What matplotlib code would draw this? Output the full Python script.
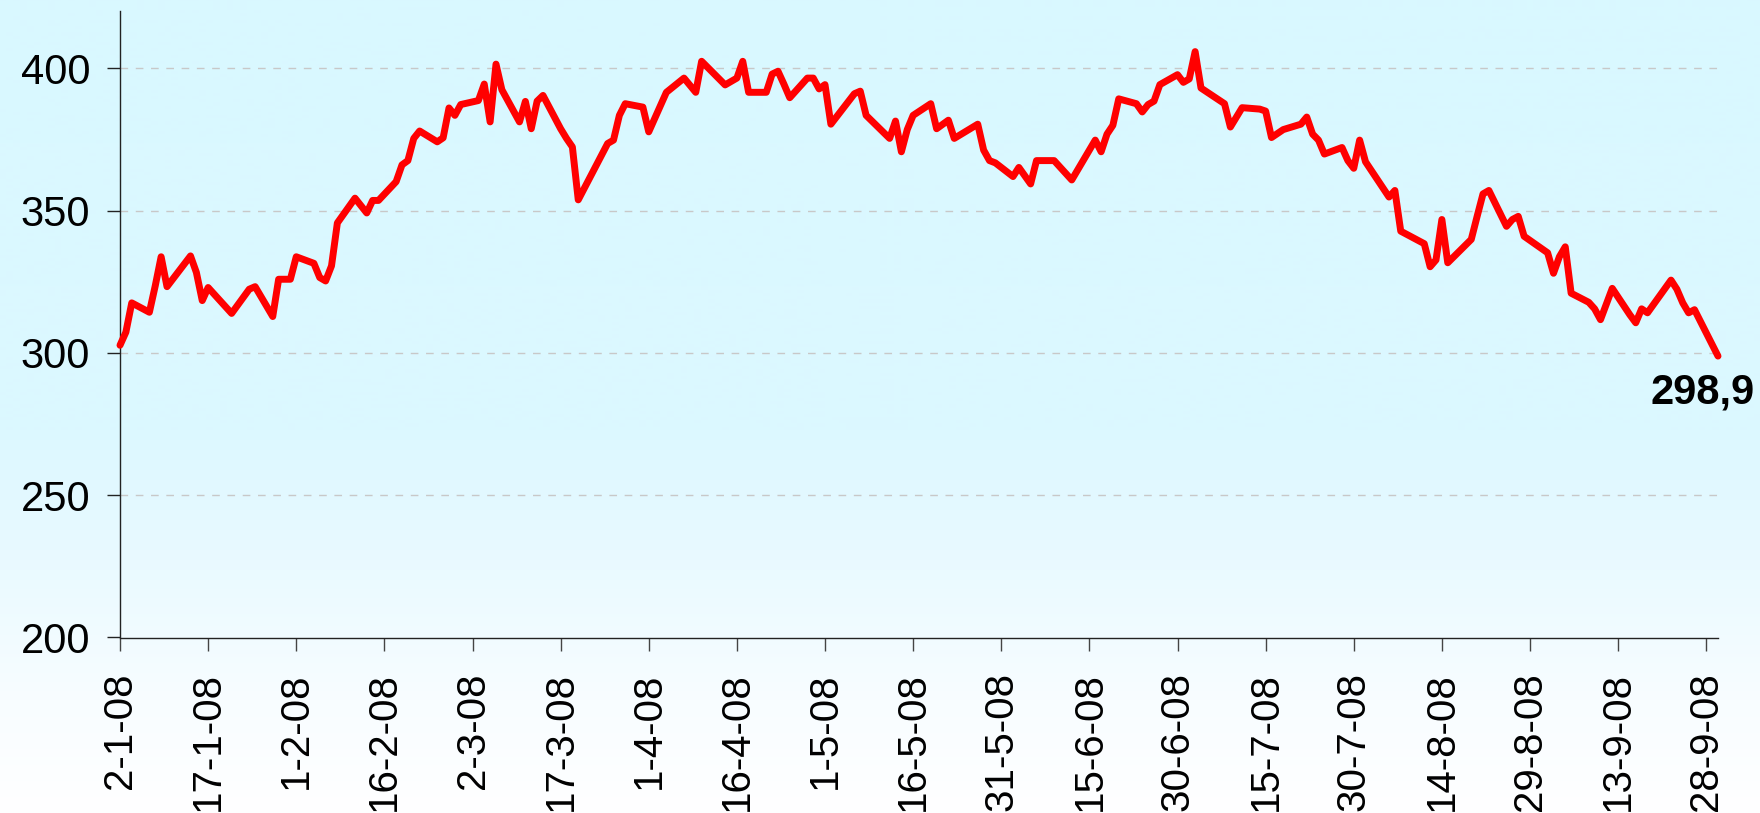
import matplotlib
matplotlib.use("Agg")
import matplotlib.pyplot as plt
import numpy as np
import pandas as pd

plt.rcParams['font.family'] = ['Liberation Sans', 'DejaVu Sans']
plt.rcParams['lines.scale_dashes'] = False

# daily closes (business days where a vertex is visible)
dates = [
    "2008-01-02", "2008-01-03", "2008-01-04", "2008-01-07", "2008-01-08", "2008-01-09",
    "2008-01-10", "2008-01-14", "2008-01-15", "2008-01-16", "2008-01-17", "2008-01-21",
    "2008-01-24", "2008-01-25", "2008-01-28", "2008-01-29", "2008-01-31",
    "2008-02-01", "2008-02-04", "2008-02-05", "2008-02-06", "2008-02-07", "2008-02-08",
    "2008-02-11", "2008-02-13", "2008-02-14", "2008-02-15", "2008-02-18", "2008-02-19",
    "2008-02-20", "2008-02-21", "2008-02-22", "2008-02-25", "2008-02-26", "2008-02-27",
    "2008-02-28", "2008-02-29",
    "2008-03-03", "2008-03-04", "2008-03-05", "2008-03-06", "2008-03-07", "2008-03-10",
    "2008-03-11", "2008-03-12", "2008-03-13", "2008-03-14", "2008-03-17", "2008-03-18",
    "2008-03-19", "2008-03-20", "2008-03-25", "2008-03-26", "2008-03-27", "2008-03-28",
    "2008-03-31",
    "2008-04-01", "2008-04-04", "2008-04-07", "2008-04-09", "2008-04-10", "2008-04-14",
    "2008-04-16", "2008-04-17", "2008-04-18", "2008-04-21", "2008-04-22", "2008-04-23",
    "2008-04-24", "2008-04-25", "2008-04-28", "2008-04-29", "2008-04-30",
    "2008-05-01", "2008-05-02", "2008-05-06", "2008-05-07", "2008-05-08", "2008-05-12",
    "2008-05-13", "2008-05-14", "2008-05-15", "2008-05-16", "2008-05-19", "2008-05-20",
    "2008-05-22", "2008-05-23", "2008-05-27", "2008-05-28", "2008-05-29", "2008-05-30",
    "2008-06-02", "2008-06-03", "2008-06-05", "2008-06-06", "2008-06-09", "2008-06-12",
    "2008-06-16", "2008-06-17", "2008-06-18", "2008-06-19", "2008-06-20", "2008-06-23",
    "2008-06-24", "2008-06-25", "2008-06-26", "2008-06-27", "2008-06-30",
    "2008-07-01", "2008-07-02", "2008-07-03", "2008-07-04", "2008-07-07", "2008-07-08",
    "2008-07-09", "2008-07-11", "2008-07-14", "2008-07-15", "2008-07-16", "2008-07-18",
    "2008-07-21", "2008-07-22", "2008-07-23", "2008-07-24", "2008-07-25", "2008-07-28",
    "2008-07-29", "2008-07-30", "2008-07-31",
    "2008-08-01", "2008-08-05", "2008-08-06", "2008-08-07", "2008-08-11", "2008-08-12",
    "2008-08-13", "2008-08-14", "2008-08-15", "2008-08-19", "2008-08-20", "2008-08-21",
    "2008-08-22", "2008-08-25", "2008-08-26", "2008-08-27", "2008-08-28",
    "2008-09-01", "2008-09-02", "2008-09-03", "2008-09-04", "2008-09-05", "2008-09-08",
    "2008-09-09", "2008-09-10", "2008-09-12", "2008-09-15", "2008-09-16", "2008-09-17",
    "2008-09-18", "2008-09-22", "2008-09-23", "2008-09-24", "2008-09-25", "2008-09-26",
    "2008-09-30",
]
values = [
    302.7, 307.3, 317.6, 314.3, 323.6, 333.8,
    323.3, 334.1, 328.3, 318.4, 323.0, 313.9,
    322.4, 323.3, 312.8, 325.9, 325.9,
    333.8, 331.5, 326.5, 325.3, 330.6, 345.7,
    354.4, 349.2, 353.6, 353.6, 360.2, 366.1,
    367.6, 375.4, 378.0, 374.2, 375.6, 386.1,
    383.5, 387.3,
    388.7, 394.5, 381.2, 401.5, 392.5, 381.2,
    388.4, 378.8, 388.5, 390.5, 378.8, 375.4,
    372.4, 353.8, 373.6, 374.8, 383.5, 387.6,
    386.4,
    377.7, 391.6, 396.6, 391.6, 402.5, 394.2,
    396.6, 402.5, 391.6, 391.6, 398.0, 399.0,
    394.5, 389.7, 396.6, 396.6, 392.8,
    394.3, 380.4, 391.1, 392.0, 383.5, 375.4,
    381.5, 370.7, 378.5, 383.5, 387.6, 378.8,
    381.8, 375.4, 380.4, 371.3, 367.6, 366.8,
    362.0, 365.2, 359.4, 367.6, 367.6, 360.8,
    374.8, 370.7, 376.9, 380.0, 389.3, 387.6,
    384.7, 387.3, 388.5, 394.3, 397.8,
    395.1, 396.3, 405.9, 393.1, 389.0, 387.6,
    379.4, 386.2, 385.7, 385.0, 375.7, 378.5,
    380.4, 382.9, 376.9, 374.8, 369.9, 372.2,
    367.6, 364.9, 374.8,
    367.2, 354.8, 357.1, 342.8, 338.4, 330.3,
    332.7, 346.9, 331.7, 339.9, 348.0, 355.9,
    357.1, 344.5, 346.9, 348.0, 341.0,
    335.2, 328.0, 333.8, 337.3, 321.0, 317.8,
    315.5, 311.7, 322.7, 313.4, 310.6, 315.5,
    314.1, 325.6, 322.4, 317.6, 314.1, 315.2,
    298.9,
]

tick_labels = ["2-1-08", "17-1-08", "1-2-08", "16-2-08", "2-3-08", "17-3-08", "1-4-08",
               "16-4-08", "1-5-08", "16-5-08", "31-5-08", "15-6-08", "30-6-08", "15-7-08",
               "30-7-08", "14-8-08", "29-8-08", "13-9-08", "28-9-08"]
y_ticks = [200, 250, 300, 350, 400]

x = pd.to_datetime(dates)
tick_pos = pd.to_datetime(tick_labels, format="%d-%m-%y")

W, H = 1760, 813
fig = plt.figure(figsize=(W / 100, H / 100), dpi=100)

# background gradient: light cyan at top fading to white at the bottom
bg = fig.add_axes([0, 0, 1, 1], zorder=-1)
rows = np.arange(H)
ctrl = [0, 430, 570, 700, 813]
r = np.interp(rows, ctrl, [217, 220, 234, 248, 255])
g = np.interp(rows, ctrl, [248, 248, 250, 253, 255])
b = np.interp(rows, ctrl, [255, 255, 255, 255, 255])
grad = np.stack([r, g, b], axis=1)[:, None, :] / 255.0
bg.imshow(grad, aspect="auto", extent=[0, 1, 0, 1])
bg.axis("off")

ax = fig.add_axes([120 / W, 1 - 637.5 / H, 1598 / W, 626 / H])
ax.set_facecolor("none")

ax.plot(x, values, color="#ff0000", lw=5, solid_joinstyle="round",
        solid_capstyle="round", clip_on=False, zorder=3)

ax.set_xlim(x[0], x[-1])
ax.set_ylim(200, 420)
ax.set_yticks(y_ticks)
ax.set_xticks(tick_pos)
ax.set_xticklabels(tick_labels, rotation=90)

for v in y_ticks[1:]:
    ax.axhline(v, color="#c8c8c8", lw=1, ls=(0, (5.5, 5.5)), zorder=1)

for s in ["top", "right"]:
    ax.spines[s].set_visible(False)
for s in ["left", "bottom"]:
    ax.spines[s].set_color("#222222")
    ax.spines[s].set_linewidth(1)

ax.tick_params(axis="y", direction="out", length=9.5, width=1, color="#222222",
               labelsize=30, pad=12)
ax.tick_params(axis="x", direction="out", length=9, width=1, color="#444444",
               labelsize=29, pad=16)

last = f"{values[-1]:.1f}".replace(".", ",")
ax.annotate(last, xy=(x[-1], values[-1]), xytext=(-11, -26.5),
            textcoords="offset points", ha="center", va="center",
            fontsize=30, fontweight="bold", annotation_clip=False)

fig.savefig("out.png", dpi=100)
